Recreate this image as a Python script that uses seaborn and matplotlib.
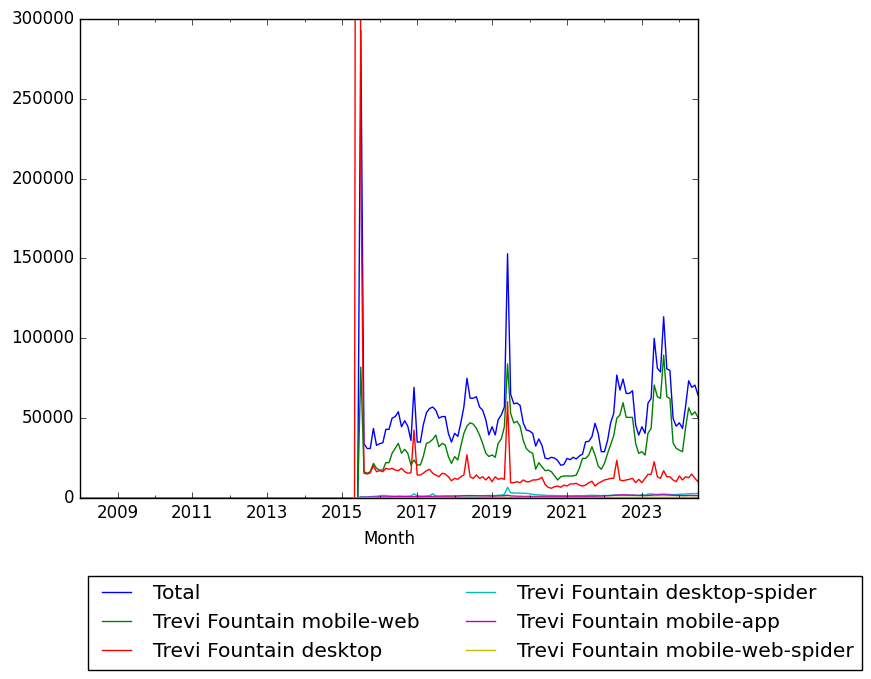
import matplotlib
matplotlib.use("Agg")
import matplotlib.pyplot as plt
import matplotlib.dates as mdates
from matplotlib.ticker import FixedLocator, FixedFormatter
import numpy as np
import pandas as pd
import seaborn as sns

plt.style.use("classic")

# ---- data (monthly, 2008-01 .. 2024-07); all series are zero before 2015-06 ----
first_month = "2008-01-01"
last_month = "2024-07-01"
zero_months = 89  # 2008-01 .. 2015-05

series_names = [
    "Total",
    "Trevi Fountain mobile-web",
    "Trevi Fountain desktop",
    "Trevi Fountain desktop-spider",
    "Trevi Fountain mobile-app",
    "Trevi Fountain mobile-web-spider",
]

# values from 2015-06 to 2024-07
total = [
    0, 293000, 34000, 31000, 31000, 43600, 33000, 34000, 34600, 43000, 43000, 50000,
    51000, 54000, 44600, 48400, 45000, 36000, 69300, 35000, 35000, 45700, 53400, 56000,
    57000, 55000, 50000, 51000, 51000, 40500, 35000, 40500, 38600, 46700, 57000, 75000,
    62500, 62500, 63400, 57000, 55000, 49000, 39500, 44600, 39500, 49000, 52000, 57000,
    153000, 65000, 59000, 59500, 58000, 47000, 42600, 42000, 40500, 32500, 37000, 33000,
    25000, 24500, 25500, 25000, 23500, 20500, 21000, 24800, 24000, 25500, 24500, 26300,
    27500, 35200, 35500, 38400, 46800, 40500, 29000, 29000, 36300, 46800, 53000, 77000,
    67600, 74500, 65500, 65500, 67200, 45700, 39400, 44600, 40500, 59300, 62400, 100000,
    81200, 79000, 113500, 80800, 80000, 49900, 45000, 47100, 43600, 57000, 73400, 69300,
    70700, 64500,
]
mobile_web = [
    0, 82000, 16500, 15500, 16500, 21700, 18600, 17500, 17500, 22100, 22100, 28000,
    31100, 34200, 28000, 30500, 28000, 20700, 23800, 20700, 20700, 25900, 34200, 35000,
    36700, 39400, 32100, 34200, 33200, 25900, 21700, 25900, 23800, 32100, 40500, 45000,
    47100, 46300, 43600, 39400, 34200, 28000, 26000, 27000, 25500, 34200, 37000, 44600,
    84000, 53000, 47000, 48000, 45000, 36000, 31000, 29000, 28000, 18000, 22100, 19600,
    17100, 17500, 16500, 13800, 11300, 13300, 13800, 13800, 13800, 13800, 14400, 18600,
    24800, 24800, 26900, 32100, 26900, 20000, 18000, 21700, 28000, 33200, 39000, 49900,
    52000, 59700, 50500, 50500, 50500, 34200, 28000, 29000, 26900, 40500, 43600, 70700,
    63400, 62400, 89500, 63400, 62400, 34600, 31100, 30000, 29000, 43600, 56500, 52000,
    54000, 50500,
]
desktop = [
    1500000, 210000, 15500, 15000, 15800, 20200, 16500, 17100, 16500, 18600, 18000, 18600,
    17500, 17100, 18600, 16500, 15500, 15800, 42600, 14400, 14400, 15500, 17100, 18000,
    15500, 14400, 13300, 15500, 15000, 13300, 10800, 12300, 11700, 13300, 14400, 27000,
    13300, 12300, 14400, 12300, 13300, 11300, 13300, 10200, 13300, 11700, 12300, 11700,
    60300, 9600, 9600, 10200, 9600, 11300, 10200, 10200, 11300, 11300, 11700, 13000,
    8500, 6700, 6100, 7100, 7500, 6700, 8100, 7500, 8800, 8800, 9200, 8100,
    7500, 8100, 9600, 10500, 7500, 9200, 10200, 11300, 11700, 12300, 12300, 23600,
    11300, 10800, 11300, 11700, 12300, 9600, 11700, 9600, 12300, 14800, 14800, 22700,
    13300, 12300, 17100, 13300, 13300, 11300, 10200, 13800, 11300, 13300, 12700, 15000,
    12300, 10200,
]
desktop_spider = [
    0, 900, 700, 700, 800, 1000, 1100, 1300, 1600, 1500, 1300, 1200,
    1100, 1300, 1200, 1100, 1200, 1300, 2600, 1400, 1200, 1100, 1200, 1300,
    2700, 1300, 1200, 1100, 1200, 1300, 1200, 1100, 1200, 1300, 1400, 1300,
    1200, 1300, 1400, 1300, 1400, 1500, 1600, 1500, 1500, 1700, 1800, 2200,
    6700, 3300, 3100, 3100, 3000, 3000, 2900, 2600, 2300, 2000, 1900, 1800,
    1700, 1600, 1600, 1500, 1500, 1400, 1500, 1500, 1400, 1400, 1500, 1500,
    1400, 1500, 1600, 1700, 1600, 1500, 1500, 1600, 1600, 1700, 1800, 1900,
    1800, 1800, 1700, 1700, 1800, 1600, 1600, 2100, 1700, 2400, 2600, 2300,
    2200, 2400, 2500, 2300, 2300, 2100, 2200, 2300, 2400, 2500, 2600, 2800,
    2700, 2900,
]
mobile_app = [
    0, 500, 500, 500, 600, 600, 600, 700, 700, 700, 700, 800,
    800, 800, 800, 800, 800, 800, 900, 900, 900, 900, 1000, 1000,
    1000, 1000, 1000, 1100, 1100, 1100, 1100, 1200, 1200, 1300, 1400, 1500,
    1500, 1500, 1400, 1400, 1300, 1300, 1200, 1200, 1200, 1300, 1300, 1400,
    1700, 1300, 1200, 1100, 1100, 1000, 1000, 1000, 900, 900, 900, 900,
    900, 900, 900, 900, 900, 900, 900, 900, 900, 900, 1000, 1000,
    1000, 1000, 1100, 1100, 1100, 1200, 1200, 1300, 1400, 1500, 1600, 1800,
    1900, 2000, 1900, 1800, 1800, 1700, 1600, 1600, 1500, 1600, 1700, 1900,
    1900, 1900, 2000, 1900, 1800, 1700, 1600, 1600, 1500, 1500, 1600, 1600,
    1500, 1500,
]
mobile_web_spider = [
    0, 300, 200, 200, 200, 200, 200, 200, 200, 200, 200, 200,
    200, 200, 200, 200, 200, 200, 300, 200, 200, 200, 200, 200,
    300, 300, 300, 300, 300, 300, 300, 300, 300, 300, 300, 300,
    300, 300, 300, 300, 300, 300, 300, 300, 300, 300, 300, 300,
    500, 300, 300, 300, 300, 300, 300, 300, 300, 300, 300, 300,
    300, 300, 300, 300, 300, 300, 300, 300, 300, 300, 300, 300,
    300, 300, 300, 300, 300, 300, 300, 300, 300, 300, 300, 400,
    400, 400, 400, 400, 400, 400, 400, 400, 400, 400, 400, 500,
    400, 400, 500, 400, 400, 400, 400, 400, 400, 400, 400, 400,
    400, 400,
]

colors = ["b", "g", "r", "c", "m", "y"]

months = pd.date_range(first_month, last_month, freq="MS")
all_values = [total, mobile_web, desktop, desktop_spider, mobile_app, mobile_web_spider]
frames = []
for name, vals in zip(series_names, all_values):
    full = [0] * zero_months + list(vals)
    frames.append(pd.DataFrame({"Month": months, "Views": full, "Series": name}))
df = pd.concat(frames, ignore_index=True)

W, H = 871, 679
fig = plt.figure(figsize=(W / 100, H / 100), dpi=100, facecolor="white")
ax = fig.add_axes([80 / W, (H - 498) / H, 618 / W, 479 / H])

sns.lineplot(data=df, x="Month", y="Views", hue="Series", hue_order=series_names,
             palette=colors, linewidth=1, estimator=None, legend=False, ax=ax)

ax.set_xlim(months[0], months[-1])
ax.set_ylim(0, 300000)
ax.set_yticks([0, 50000, 100000, 150000, 200000, 250000, 300000])
ax.set_yticklabels(["0", "50000", "100000", "150000", "200000", "250000", "300000"])

major_years = [2009, 2011, 2013, 2015, 2017, 2019, 2021, 2023]
minor_years = [2010, 2012, 2014, 2016, 2018, 2020, 2022, 2024]
ax.xaxis.set_major_locator(FixedLocator([mdates.date2num(pd.Timestamp(f"{y}-01-01")) for y in major_years]))
ax.xaxis.set_major_formatter(FixedFormatter([str(y) for y in major_years]))
ax.xaxis.set_minor_locator(FixedLocator([mdates.date2num(pd.Timestamp(f"{y}-01-01")) for y in minor_years]))
ax.set_xlabel("Month", fontsize=12, labelpad=6)
ax.set_ylabel("")
ax.tick_params(axis="x", labelsize=12)
ax.tick_params(axis="y", labelsize=12)

handles = ax.get_lines()[:6]
leg = fig.legend(handles, series_names, loc="upper center", ncol=2,
                 bbox_to_anchor=(475 / W, (H - 576) / H), bbox_transform=fig.transFigure,
                 fontsize=14.6, frameon=True, fancybox=False, handlelength=2.0,
                 borderaxespad=0)
leg.get_frame().set_edgecolor("black")

fig.savefig("out.png", dpi=100, facecolor="white")
